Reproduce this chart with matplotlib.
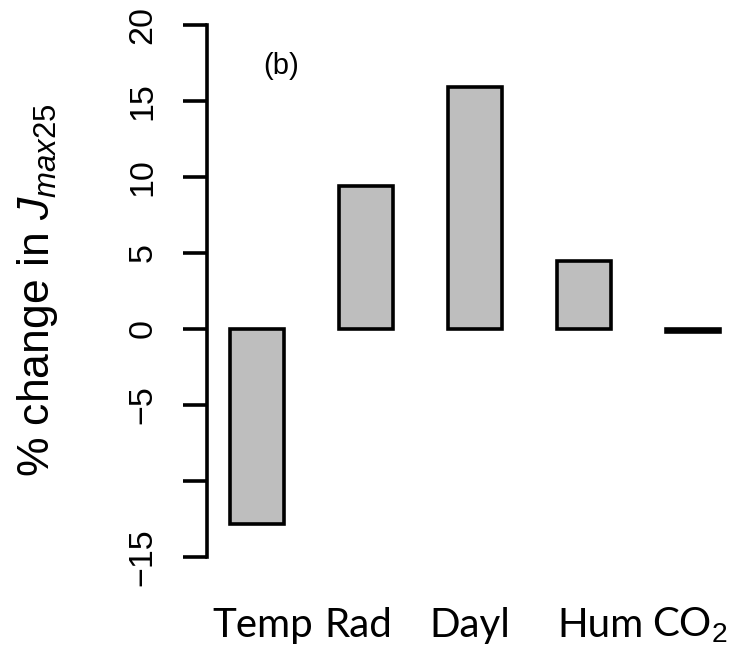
import numpy as np
import matplotlib
matplotlib.use("Agg")
import matplotlib.pyplot as plt
import matplotlib.transforms as mtransforms

plt.rcParams['font.family'] = 'Liberation Sans'
plt.rcParams['mathtext.fontset'] = 'custom'
plt.rcParams['mathtext.rm'] = 'Liberation Sans'
plt.rcParams['mathtext.it'] = 'Liberation Sans:italic'

# data
drivers = ["Temp", "Rad", "Dayl", "Hum", "CO$_2$"]
pct_change = [-12.8, 9.4, 15.9, 4.5, -0.2]
ytick_vals = [-15, -10, -5, 0, 5, 10, 15, 20]
ytick_labels = ["\u221215", "", "\u22125", "0", "5", "10", "15", "20"]
# label positions are shifted a bit from the bar centres in the original
label_shift = [0.05, -0.07, -0.05, 0.15, -0.03]

fig = plt.figure(figsize=(7.46, 6.51), dpi=100)
ax = fig.add_axes([207/746, 94/651, 539/746, 532/651])

x = np.arange(len(drivers))
ax.bar(x, pct_change, width=0.5, color="#bebebe", edgecolor="black", linewidth=2.6)

ax.set_xlim(-0.459, 4.486)
ax.set_ylim(-15, 20)

for s in ["top", "right", "bottom"]:
    ax.spines[s].set_visible(False)
ax.spines["left"].set_linewidth(2.6)
ax.set_xticks([])
ax.set_yticks(ytick_vals)
ax.set_yticklabels(ytick_labels, rotation=90, va="center", fontsize=24.5)
ax.tick_params(axis="y", length=17, width=2.6, pad=18)

# category labels below the plot
trans = mtransforms.blended_transform_factory(ax.transData, ax.transAxes)
for xi, name, dx in zip(x, drivers, label_shift):
    ax.text(xi + dx, -0.150, name, transform=trans, ha="center", va="baseline",
            fontsize=29, family="Lato", math_fontfamily="custom")

fig.text(38/746, 1 - 290/651, "% change in $J_{max25}$", rotation=90,
         ha="center", va="center", fontsize=32)
ax.text(0.138, 0.923, "(b)", transform=ax.transAxes, ha="center", va="center", fontsize=21)

fig.savefig("out.png", dpi=100)
